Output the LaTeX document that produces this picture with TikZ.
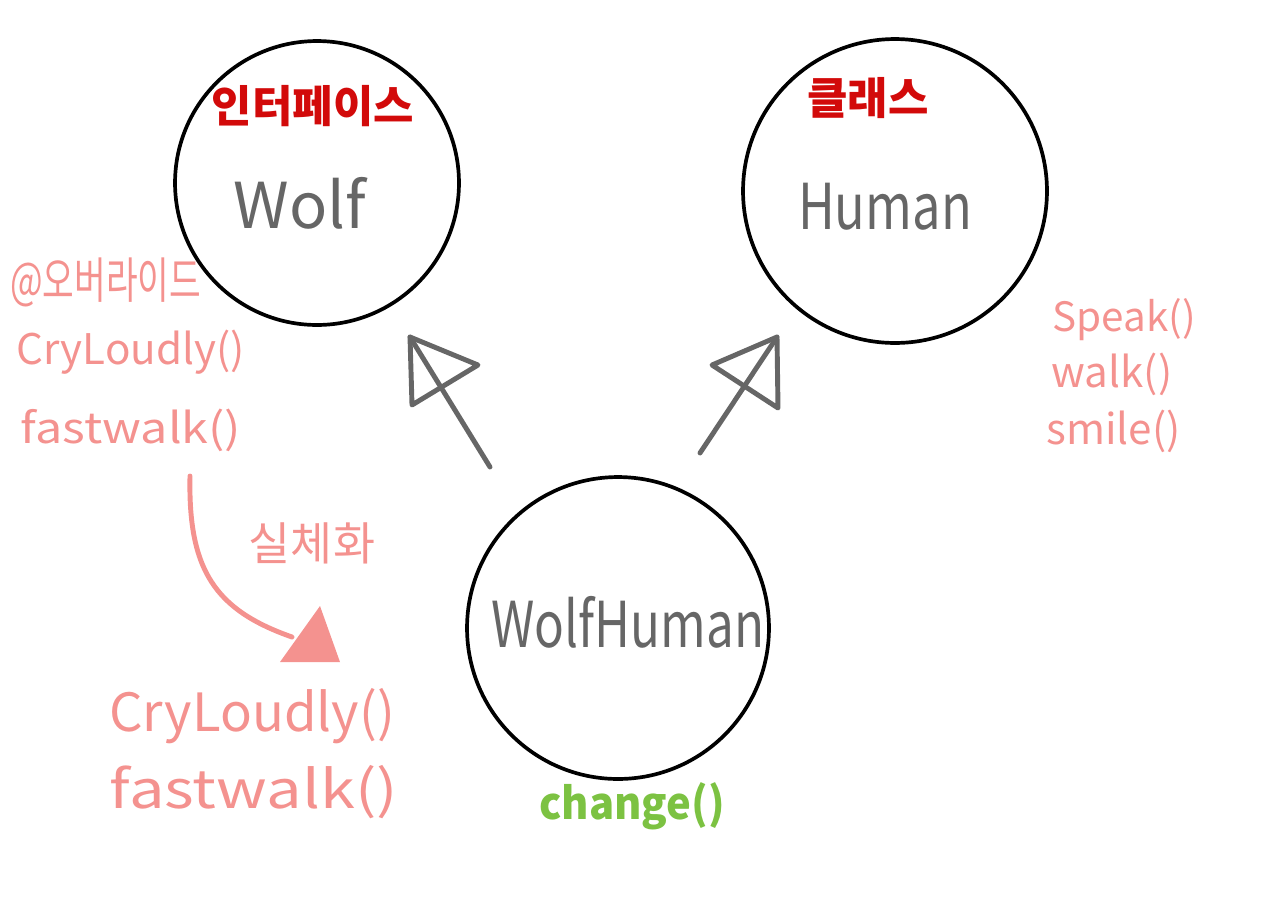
\documentclass[tikz,border=0pt]{standalone}
\usepackage{fontspec}
\setmainfont{Noto Sans CJK KR}
\definecolor{kred}{HTML}{D20A0A}
\definecolor{pinkc}{HTML}{F4928F}
\definecolor{grayc}{HTML}{666666}
\definecolor{greenc}{HTML}{7CC242}
\tikzset{
  circ/.style={draw=black, line width=2.1pt, circle, inner sep=0pt},
  titletxt/.style={text=kred, font=\fontsize{25}{28}\selectfont\bfseries, inner sep=0pt},
  nametxt/.style={text=grayc, font=\fontsize{36}{40}\selectfont, inner sep=0pt},
  pinktxt/.style={text=pinkc, font=\fontsize{24}{28}\selectfont, inner sep=0pt, anchor=west},
  bigpink/.style={text=pinkc, font=\fontsize{30}{34}\selectfont, inner sep=0pt},
  realize/.style={draw=grayc, line width=2.8pt, line cap=round, line join=round},
}
\begin{document}
\begin{tikzpicture}[x=0.02cm, y=-0.02cm]
\useasboundingbox (0,0) rectangle (1280,904);
% circles
\node[circ, minimum size=5.68cm] (wolf) at (317,183) {};
\node[circ, minimum size=6.08cm] (human) at (895,191) {};
\node[circ, minimum size=6.04cm] (wh) at (618,628) {};
% titles
\node[titletxt] (t1) at (313,106) {인터페이스};
\node[titletxt] (t2) at (868,98) {클래스};
% names
\node[nametxt] (n1) at (300,203) {Wolf};
\node[nametxt, xscale=0.8] (n2) at (885,207) {Human};
\node[nametxt, xscale=0.78] (n3) at (628,622) {WolfHuman};
% arrows (realization)
\coordinate (a1s) at (490,467);
\coordinate (a1t) at (410,337);
\coordinate (a1b) at (478,365);
\coordinate (a1c) at (412,405);
\draw[realize] (a1s) -- (a1t);
\draw[realize] (a1t) -- (a1b) -- (a1c) -- cycle;
\coordinate (a2s) at (700,453);
\coordinate (a2t) at (777,337);
\coordinate (a2b) at (712,365);
\coordinate (a2c) at (778,408);
\draw[realize] (a2s) -- (a2t);
\draw[realize] (a2t) -- (a2b) -- (a2c) -- cycle;
% left pink texts
\node[pinktxt, font=\fontsize{28}{30}\selectfont, xscale=0.7] (o1) at (10,282) {@오버라이드};
\node[pinktxt] (o2) at (16,352) {CryLoudly()};
\node[pinktxt, xscale=1.15] (o3) at (20,430) {fastwalk()};
% curve arrow
\coordinate (c0) at (190,476);
\coordinate (c1) at (292,637);
\draw[pinkc, line width=2.8pt, line cap=round] (c0) .. controls (188,570) and (215,610) .. (c1);
\coordinate (h1) at (320,606);
\coordinate (h2) at (340,662);
\coordinate (h3) at (280,662);
\fill[pinkc] (h1) -- (h2) -- (h3) -- cycle;
\node[text=pinkc, font=\fontsize{26}{30}\selectfont, inner sep=0pt] (sil) at (312,543) {실체화};
% lower pink
\node[bigpink] (l1) at (252,716) {CryLoudly()};
\node[bigpink, xscale=1.2] (l2) at (254,792) {fastwalk()};
% green
\node[text=greenc, font=\fontsize{25}{30}\selectfont\bfseries, xscale=0.95, inner sep=0pt] (ch) at (632,806) {change()};
% right pink
\node[pinktxt, font=\fontsize{23}{26}\selectfont] (r1) at (1052,320) {Speak()};
\node[pinktxt, font=\fontsize{24}{26}\selectfont] (r2) at (1051,374) {walk()};
\node[pinktxt, font=\fontsize{24}{26}\selectfont] (r3) at (1046,431) {smile()};
\end{tikzpicture}
\end{document}
